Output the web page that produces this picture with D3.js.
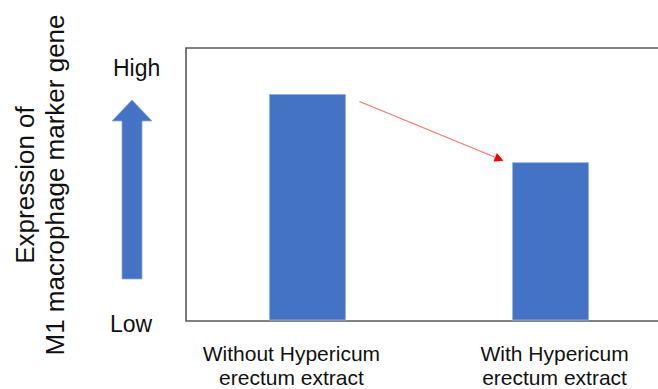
<!DOCTYPE html>
<html>
<head>
<meta charset="utf-8">
<script src="https://cdn.jsdelivr.net/npm/d3@7"></script>
<style>
  html, body { margin: 0; padding: 0; background: #fff; }
  svg { display: block; font-family: "Liberation Sans", Arial, sans-serif; }
</style>
</head>
<body>
<svg id="chart" width="658" height="389"></svg>
<script>
// ---- data ----
const categories = ["Without Hypericum erectum extract", "With Hypericum erectum extract"];
const categoryLines = [["Without Hypericum", "erectum extract"], ["With Hypericum", "erectum extract"]];
const values = [83, 58];
const levelLabels = ["High", "Low"];
const yTitleLines = ["Expression of", "M1 macrophage marker gene"];

// ---- layout ----
const W = 658, H = 389;
const plot = { left: 186, top: 48, bottom: 321, right: 672 };
const svg = d3.select("#chart");

const x = d3.scaleBand()
  .domain(categories)
  .range([plot.left, plot.right])
  .paddingInner(0.687)
  .paddingOuter(0.343);

const y = d3.scaleLinear().domain([0, 100]).range([plot.bottom, plot.top]);

// frame (top, left, bottom)
const frameColor = "#595959";
svg.append("path")
  .attr("d", `M${W},${plot.top}H${plot.left}V${plot.bottom}H${W}`)
  .attr("fill", "none")
  .attr("stroke", frameColor)
  .attr("stroke-width", 1.6);

// bars
svg.selectAll("rect.bar")
  .data(categories)
  .join("rect")
  .attr("class", "bar")
  .attr("x", d => x(d))
  .attr("width", x.bandwidth())
  .attr("y", (d, i) => y(values[i]))
  .attr("height", (d, i) => y(0) - y(values[i]) - 1)
  .attr("fill", "#4472C4")
  .attr("stroke", "#9db3e0")
  .attr("stroke-width", 0.8);

// red arrow from bar 1 top-right to bar 2 top-left
const arrowStart = [x(categories[0]) + x.bandwidth() + 14, y(values[0]) + 7];
const arrowEnd = [x(categories[1]) - 9, y(values[1]) - 2];
const ang = Math.atan2(arrowEnd[1] - arrowStart[1], arrowEnd[0] - arrowStart[0]);
const headLen = 9, headW = 4.5;
const baseX = arrowEnd[0] - headLen * Math.cos(ang), baseY = arrowEnd[1] - headLen * Math.sin(ang);
svg.append("line")
  .attr("x1", arrowStart[0]).attr("y1", arrowStart[1])
  .attr("x2", baseX).attr("y2", baseY)
  .attr("stroke", "#ff6e6e")
  .attr("stroke-width", 1.1);
svg.append("path")
  .attr("d", `M${arrowEnd[0]},${arrowEnd[1]}L${baseX + headW * Math.sin(ang)},${baseY - headW * Math.cos(ang)}L${baseX - headW * Math.sin(ang)},${baseY + headW * Math.cos(ang)}Z`)
  .attr("fill", "#ff0000");

// left blue up-arrow
const ax = 132, aTop = 100, aHeadBase = 121, aBottom = 279, headHalf = 20, shaftHalf = 10;
svg.append("path")
  .attr("d", `M${ax},${aTop}L${ax + headHalf},${aHeadBase}H${ax + shaftHalf}V${aBottom}H${ax - shaftHalf}V${aHeadBase}H${ax - headHalf}Z`)
  .attr("fill", "#4472C4")
  .attr("stroke", "#8ea8dc")
  .attr("stroke-width", 0.8);

// High / Low
svg.append("text").attr("x", 113).attr("y", 76).attr("font-size", 23).attr("fill", "#111").text(levelLabels[0]);
svg.append("text").attr("x", 110).attr("y", 332).attr("font-size", 23).attr("fill", "#111").text(levelLabels[1]);

// y title
const yt = svg.append("text")
  .attr("transform", "translate(0,185) rotate(-90)")
  .attr("text-anchor", "middle")
  .attr("font-size", 26)
  .attr("fill", "#111");
yTitleLines.forEach((t, i) => yt.append("tspan").attr("x", 0).attr("y", 33.5 + i * 30).text(t));

// category labels
const labelDx = [-16, 4];
categories.forEach((c, i) => {
  const t = svg.append("text")
    .attr("text-anchor", "middle")
    .attr("font-size", 21)
    .attr("fill", "#111");
  categoryLines[i].forEach((line, j) => {
    t.append("tspan")
      .attr("x", x(c) + x.bandwidth() / 2 + labelDx[i])
      .attr("y", 361 + j * 23.5)
      .text(line);
  });
});
</script>
</body>
</html>
